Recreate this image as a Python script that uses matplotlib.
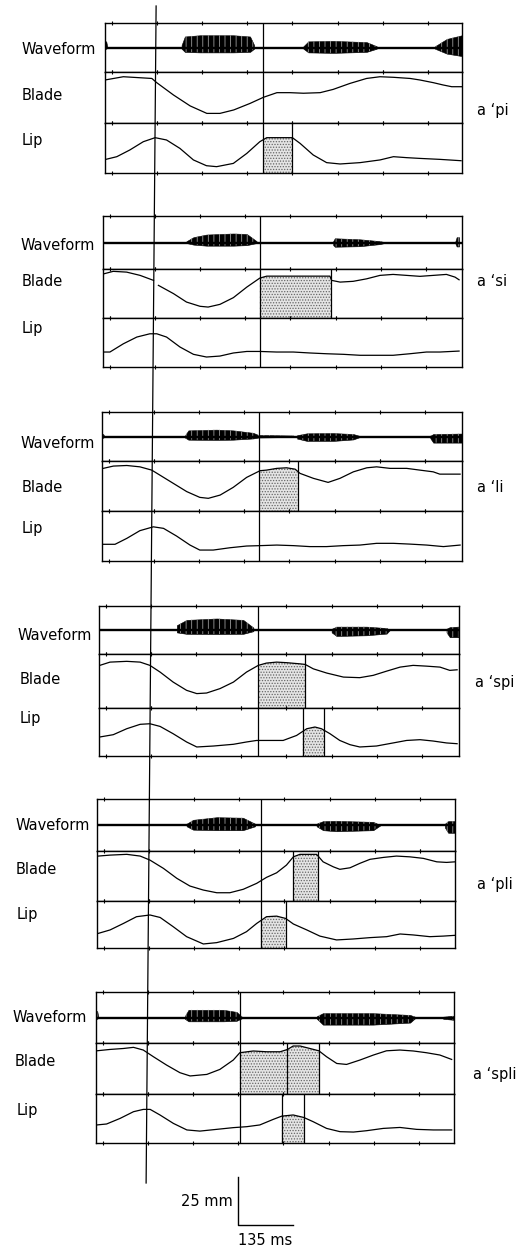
import numpy as np
import matplotlib
matplotlib.use("Agg")
import matplotlib.pyplot as plt

plt.rcParams['font.family'] = ['DejaVu Sans']
plt.rcParams['hatch.linewidth'] = 0.6

# --- data: time in ms from left edge of each panel, displacement in mm ---
words = ["a \u2018pi", "a \u2018si", "a \u2018li", "a \u2018spi", "a \u2018pli", "a \u2018spli"]
row_names = ["Waveform", "Blade", "Lip"]

p1_blade_t = [0, 45, 115, 127, 168, 209, 250, 282, 316, 356, 389, 422, 454, 487, 528, 560, 601, 642, 675, 708, 749, 773, 806, 830, 851, 876]
p1_blade_mm = [22.4, 24.1, 23.2, 21.0, 14.6, 8.9, 5.0, 5.0, 6.8, 10.2, 13.4, 15.8, 15.8, 15.5, 15.8, 17.5, 20.6, 23.2, 24.1, 23.8, 23.2, 22.4, 21.0, 19.8, 18.9, 18.9]
p1_lip_t = [2, 29, 61, 94, 123, 151, 184, 217, 249, 274, 315, 348, 380, 397, 460, 479, 511, 544, 577, 626, 675, 708, 740, 773, 822, 874]
p1_lip_mm = [7.1, 8.5, 12.0, 16.3, 18.4, 17.2, 12.8, 6.8, 3.8, 3.3, 5.0, 10.2, 16.3, 18.4, 18.4, 15.4, 9.4, 5.4, 4.7, 5.4, 6.8, 8.5, 8.0, 7.6, 7.1, 6.4]

nan = np.nan
p2_blade_t = [2, 25, 58, 91, 124, nan, 136, 173, 205, 238, 258, 287, 320, 353, 385, 402, 557, 561, 582, 614, 647, 680, 712, 745, 778, 811, 843, 864, 874]
p2_blade_mm = [23.0, 24.3, 23.9, 22.2, 19.6, nan, 17.0, 12.7, 8.3, 6.1, 5.7, 7.1, 10.6, 16.1, 20.8, 21.8, 21.8, 19.6, 18.7, 19.1, 20.4, 22.2, 22.7, 22.2, 21.7, 22.2, 22.7, 21.3, 19.9]
p2_lip_t = [2, 17, 50, 83, 115, 132, 156, 189, 222, 254, 287, 320, 353, 385, 426, 467, 508, 549, 590, 631, 672, 712, 753, 794, 827, 874]
p2_lip_mm = [7.8, 7.8, 12.1, 15.6, 17.3, 17.3, 15.6, 10.4, 6.6, 5.2, 5.7, 7.3, 8.1, 8.1, 7.8, 7.8, 7.3, 6.9, 6.6, 6.1, 6.1, 6.1, 6.9, 7.8, 7.8, 8.3]

p3_blade_t = [3, 28, 61, 93, 122, 142, 175, 208, 240, 261, 290, 322, 355, 388, 404, 429, 453, 474, 486, 519, 555, 584, 617, 650, 674, 707, 748, 780, 813, 829, 879]
p3_blade_mm = [22.2, 23.4, 23.7, 23.0, 21.3, 18.7, 14.4, 10.1, 7.1, 6.6, 8.3, 12.3, 17.5, 21.0, 21.3, 22.2, 22.5, 21.8, 19.6, 17.0, 14.9, 17.0, 20.4, 22.5, 23.0, 22.2, 22.2, 21.3, 20.4, 19.2, 19.2]
p3_lip_t = [3, 32, 61, 93, 126, 151, 183, 216, 240, 273, 314, 355, 388, 429, 470, 510, 551, 592, 633, 674, 715, 756, 797, 838, 879]
p3_lip_mm = [8.7, 8.7, 11.8, 15.8, 17.8, 17.0, 13.0, 8.3, 5.7, 5.7, 6.9, 7.8, 8.0, 8.3, 8.0, 7.5, 7.5, 8.0, 8.3, 9.2, 9.2, 8.8, 8.3, 7.5, 8.3]

p4_blade_t = [2, 27, 68, 101, 125, 150, 182, 215, 240, 264, 297, 330, 362, 391, 411, 436, 461, 493, 506, 526, 559, 600, 640, 673, 706, 739, 771, 804, 837, 861, 879]
p4_blade_mm = [22.2, 23.9, 24.3, 23.9, 22.2, 18.7, 13.5, 9.2, 7.5, 7.8, 10.1, 13.5, 18.7, 22.2, 23.4, 23.9, 23.6, 23.0, 22.7, 20.4, 18.2, 16.1, 15.8, 17.0, 19.2, 21.3, 22.2, 21.8, 21.3, 19.6, 19.9]
p4_lip_t = [2, 35, 68, 101, 125, 150, 182, 215, 240, 281, 330, 362, 387, 411, 452, 485, 510, 530, 546, 567, 591, 616, 640, 681, 722, 755, 788, 820, 853, 879]
p4_lip_mm = [9.9, 11.1, 14.2, 16.5, 16.8, 15.4, 11.6, 7.3, 4.7, 5.2, 6.1, 7.3, 8.1, 8.1, 8.1, 10.7, 14.2, 15.1, 14.2, 11.6, 8.1, 5.9, 4.7, 5.2, 6.8, 8.1, 8.5, 7.8, 6.8, 6.4]

p5_blade_t = [3, 32, 73, 106, 130, 163, 196, 228, 261, 294, 326, 359, 392, 416, 441, 465, 482, 498, 539, 555, 580, 596, 621, 645, 670, 703, 735, 768, 801, 834, 858, 879]
p5_blade_mm = [23.4, 23.9, 24.3, 23.4, 21.3, 17.0, 11.8, 7.8, 5.7, 4.3, 4.3, 6.1, 9.2, 12.3, 14.7, 18.7, 23.0, 24.3, 24.3, 20.4, 17.8, 16.5, 17.3, 19.6, 21.7, 22.7, 23.4, 23.0, 22.2, 20.4, 20.1, 20.4]
p5_lip_t = [3, 32, 65, 97, 130, 155, 187, 220, 261, 294, 335, 367, 392, 416, 441, 463, 482, 515, 547, 588, 629, 670, 711, 744, 776, 817, 850, 879]
p5_lip_mm = [7.6, 9.4, 12.8, 16.3, 17.2, 15.9, 11.1, 5.9, 2.1, 2.8, 5.0, 8.5, 12.8, 16.3, 16.6, 15.4, 12.5, 9.4, 6.2, 4.2, 4.7, 5.4, 5.9, 7.3, 6.8, 5.9, 6.2, 6.6]

p6_blade_t = [2, 34, 67, 92, 116, 141, 173, 206, 231, 272, 304, 337, 353, 386, 419, 452, 470, 484, 501, 525, 547, 566, 591, 615, 648, 681, 713, 746, 779, 811, 844, 873]
p6_blade_mm = [22.5, 23.2, 23.7, 24.3, 22.9, 19.4, 15.1, 11.1, 9.4, 10.2, 12.8, 17.7, 21.5, 22.4, 22.0, 22.0, 23.2, 25.0, 25.0, 23.7, 22.5, 19.4, 15.9, 15.4, 17.7, 20.3, 22.5, 22.9, 22.4, 21.5, 20.3, 18.0]
p6_lip_t = [2, 26, 59, 92, 116, 133, 157, 190, 223, 255, 296, 337, 370, 402, 435, 456, 484, 510, 533, 566, 599, 632, 664, 705, 746, 787, 828, 873]
p6_lip_mm = [9.4, 9.9, 12.8, 16.3, 17.5, 17.5, 14.6, 10.2, 6.8, 6.2, 7.1, 8.0, 8.5, 9.4, 12.3, 14.0, 14.6, 13.3, 11.1, 7.6, 5.9, 5.7, 6.4, 7.6, 8.1, 7.1, 6.8, 6.8]

# voicing bursts in the waveform: (times ms, upper envelope, lower envelope)
p1_bursts = [([0, 3, 6], [0.25, 0.25, 0.0], [0.05, 0.05, 0.0]),
             ([188, 196, 233, 315, 356, 366], [0.1, 0.45, 0.5, 0.5, 0.45, 0.1], [0.05, 0.18, 0.2, 0.2, 0.18, 0.05]),
             ([487, 499, 560, 642, 667], [0.05, 0.25, 0.27, 0.22, 0.05], [0.05, 0.2, 0.22, 0.18, 0.05]),
             ([810, 839, 876], [0.05, 0.35, 0.5], [0.05, 0.25, 0.35])]
p2_bursts = [([205, 222, 254, 320, 353, 377], [0.05, 0.2, 0.3, 0.34, 0.32, 0.05], [0.02, 0.08, 0.12, 0.12, 0.1, 0.02]),
             ([565, 569, 631, 680, 696], [0.05, 0.16, 0.12, 0.05, 0.0], [0.1, 0.16, 0.14, 0.06, 0.0]),
             ([864, 868, 874], [0.0, 0.2, 0.2], [0.0, 0.15, 0.15])]
p3_bursts = [([0, 3, 6], [0.1, 0.1, 0.0], [0.05, 0.05, 0.0]),
             ([204, 212, 281, 322, 371, 384, 470], [0.05, 0.25, 0.28, 0.25, 0.15, 0.06, 0.04], [0.05, 0.13, 0.14, 0.13, 0.08, 0.04, 0.02]),
             ([478, 503, 568, 617, 633], [0.05, 0.13, 0.14, 0.1, 0.02], [0.08, 0.18, 0.18, 0.12, 0.02]),
             ([805, 813, 883], [0.02, 0.1, 0.12], [0.05, 0.25, 0.25])]
p4_bursts = [([191, 215, 289, 354, 379], [0.2, 0.42, 0.48, 0.42, 0.1], [0.1, 0.16, 0.17, 0.16, 0.05]),
             ([571, 583, 657, 706, 714], [0.05, 0.14, 0.14, 0.08, 0.0], [0.1, 0.25, 0.22, 0.15, 0.0]),
             ([853, 861, 882], [0.05, 0.12, 0.14], [0.1, 0.3, 0.3])]
p5_bursts = [([220, 236, 294, 358, 388], [0.05, 0.2, 0.3, 0.28, 0.05], [0.05, 0.18, 0.2, 0.2, 0.05]),
             ([539, 555, 588, 678, 695], [0.05, 0.15, 0.16, 0.12, 0.0], [0.05, 0.2, 0.24, 0.2, 0.02]),
             ([854, 862, 880], [0.05, 0.15, 0.15], [0.1, 0.3, 0.3])]
p6_bursts = [([0, 3, 6], [0.25, 0.25, 0.0], [0.05, 0.05, 0.0]),
             ([218, 227, 313, 345, 358], [0.05, 0.3, 0.3, 0.22, 0.03], [0.05, 0.15, 0.15, 0.13, 0.03]),
             ([542, 557, 680, 771, 783], [0.05, 0.17, 0.17, 0.1, 0.03], [0.05, 0.28, 0.28, 0.2, 0.03]),
             ([852, 884], [0.03, 0.08], [0.05, 0.1])]

# event lines (ms): one through the whole panel, extra ones per row, shaded intervals per row
full_line = [389, 385, 386, 391, 402, 353]
blade_lines = [[], [559], [480], [506], [482, 542], [470, 547]]
lip_lines = [[460], [], [], [500, 553], [463], [456, 510]]
blade_shade = [[], [(385, 559)], [(386, 480)], [(391, 506)], [(482, 542)], [(353, 470), (470, 547)]]
lip_shade = [[(389, 460)], [], [], [(500, 553)], [(402, 463)], [(456, 510)]]

peak_ms = 123      # reference lip peak line
scale_mm = 25
scale_ms = 135

# --- layout (pixels of the 529 x 1248 page) ---
W, H = 529, 1248
MS_PER_PX = 135 / 55
MM_PER_PX = 25 / 48
lefts = [105, 103, 102, 99, 97, 96]
rights = [462, 462, 462, 459, 455, 454]
tops = [23, 216, 412, 606, 799, 992]
div1 = [72, 269, 461, 654, 851, 1043]
div2 = [123, 318, 511, 708, 901, 1094]
bottoms = [173, 367, 561, 756, 948, 1143]
label_y = [(49, 95, 140), (245, 282, 328), (443, 487, 528), (635, 680, 718), (825, 869, 914), (1017, 1062, 1110)]
label_x = [(22, 22, 22), (21, 22, 22), (21, 22, 22), (18, 20, 20), (16, 16, 17), (13, 15, 17)]
word_pos = [(477, 111), (477, 282), (477, 487), (475, 682), (477, 885), (473, 1075)]

curves = [(p1_blade_t, p1_blade_mm, p1_lip_t, p1_lip_mm, p1_bursts),
          (p2_blade_t, p2_blade_mm, p2_lip_t, p2_lip_mm, p2_bursts),
          (p3_blade_t, p3_blade_mm, p3_lip_t, p3_lip_mm, p3_bursts),
          (p4_blade_t, p4_blade_mm, p4_lip_t, p4_lip_mm, p4_bursts),
          (p5_blade_t, p5_blade_mm, p5_lip_t, p5_lip_mm, p5_bursts),
          (p6_blade_t, p6_blade_mm, p6_lip_t, p6_lip_mm, p6_bursts)]

fig = plt.figure(figsize=(W / 100, H / 100), dpi=100)
fig.patch.set_facecolor('white')


def shade(ax, t, y, t0, t1):
    t = np.asarray(t, float)
    y = np.asarray(y, float)
    ok = ~np.isnan(t)
    ts = np.linspace(t0, t1, 60)
    ys = np.interp(ts, t[ok], y[ok])
    ax.fill_between(ts, 0, ys, facecolor='#e4e4e4', edgecolor='#666666',
                    hatch='......', linewidth=0, zorder=1)


last_lip = None
for i in range(6):
    bt, bm, lt, lm, bursts = curves[i]
    left, right = lefts[i], rights[i]
    xmax = (right - left) * MS_PER_PX
    rows = [(tops[i], div1[i]), (div1[i], div2[i]), (div2[i], bottoms[i])]
    axs = []
    for (y0, y1) in rows:
        ax = fig.add_axes([left / W, 1 - y1 / H, (right - left) / W, (y1 - y0) / H])
        ax.set_xlim(0, xmax)
        for s in ax.spines.values():
            s.set_linewidth(1.0)
        ax.set_xticks(np.arange(16, xmax, 111))
        ax.set_yticks([])
        ax.tick_params(axis='x', direction='inout', length=3, width=0.8,
                       top=True, labelbottom=False)
        ax.axvline(full_line[i], color='black', lw=0.9)
        axs.append(ax)
    wave, blade, lip = axs

    # waveform: voicing drawn as dark bursts with a striated texture
    wave.set_ylim(-1, 1)
    wave.axhline(0, color='black', lw=1.7)
    for bt_, up, dn in bursts:
        wave.fill_between(bt_, -np.asarray(dn), up, color='black', linewidth=0.4)
        wave.fill_between(bt_, -np.asarray(dn), up, facecolor='none',
                          edgecolor='#9a9a9a', hatch='|||', linewidth=0)

    # blade
    blade.set_ylim(0, (div2[i] - div1[i]) * MM_PER_PX)
    for t0, t1 in blade_shade[i]:
        shade(blade, bt, bm, t0, t1)
    for x in blade_lines[i]:
        blade.axvline(x, color='black', lw=0.9)
    blade.plot(bt, bm, color='black', lw=0.9, zorder=3)

    # lip
    lip.set_ylim(0, (bottoms[i] - div2[i]) * MM_PER_PX)
    for t0, t1 in lip_shade[i]:
        shade(lip, lt, lm, t0, t1)
    for x in lip_lines[i]:
        lip.axvline(x, color='black', lw=0.9)
    lip.plot(lt, lm, color='black', lw=0.9, zorder=3)
    last_lip = lip

# overlay for labels and the long reference line
ov = fig.add_axes([0, 0, 1, 1])
ov.set_xlim(0, W)
ov.set_ylim(H, 0)
ov.axis('off')
ov.patch.set_alpha(0)
x_top = lefts[0] + peak_ms / MS_PER_PX
x_bot = lefts[5] + peak_ms / MS_PER_PX
ov.plot([x_top + 1, x_bot], [6, 1183], color='black', lw=0.9)

for i in range(6):
    for j, name in enumerate(row_names):
        ov.text(label_x[i][j], label_y[i][j], name, fontsize=10.5,
                ha='left', va='center', color='black')
    ov.text(word_pos[i][0], word_pos[i][1], words[i], fontsize=10.5,
            ha='left', va='center', color='black')

# scale bar in data units of the last lip row
lip = last_lip
sx0 = 348
sy0 = -(1225 - bottoms[5]) * MM_PER_PX
lip.plot([sx0, sx0, sx0 + scale_ms], [sy0 + scale_mm, sy0, sy0], color='black',
         lw=1.0, clip_on=False)
lip.text(sx0 - 12, sy0 + scale_mm / 2, f"{scale_mm} mm", fontsize=10.5,
         ha='right', va='center', color='black')
lip.text(sx0 + scale_ms / 2, sy0 - 8, f"{scale_ms} ms", fontsize=10.5,
         ha='center', va='center', color='black')

fig.savefig('out.png', dpi=100, facecolor='white')
